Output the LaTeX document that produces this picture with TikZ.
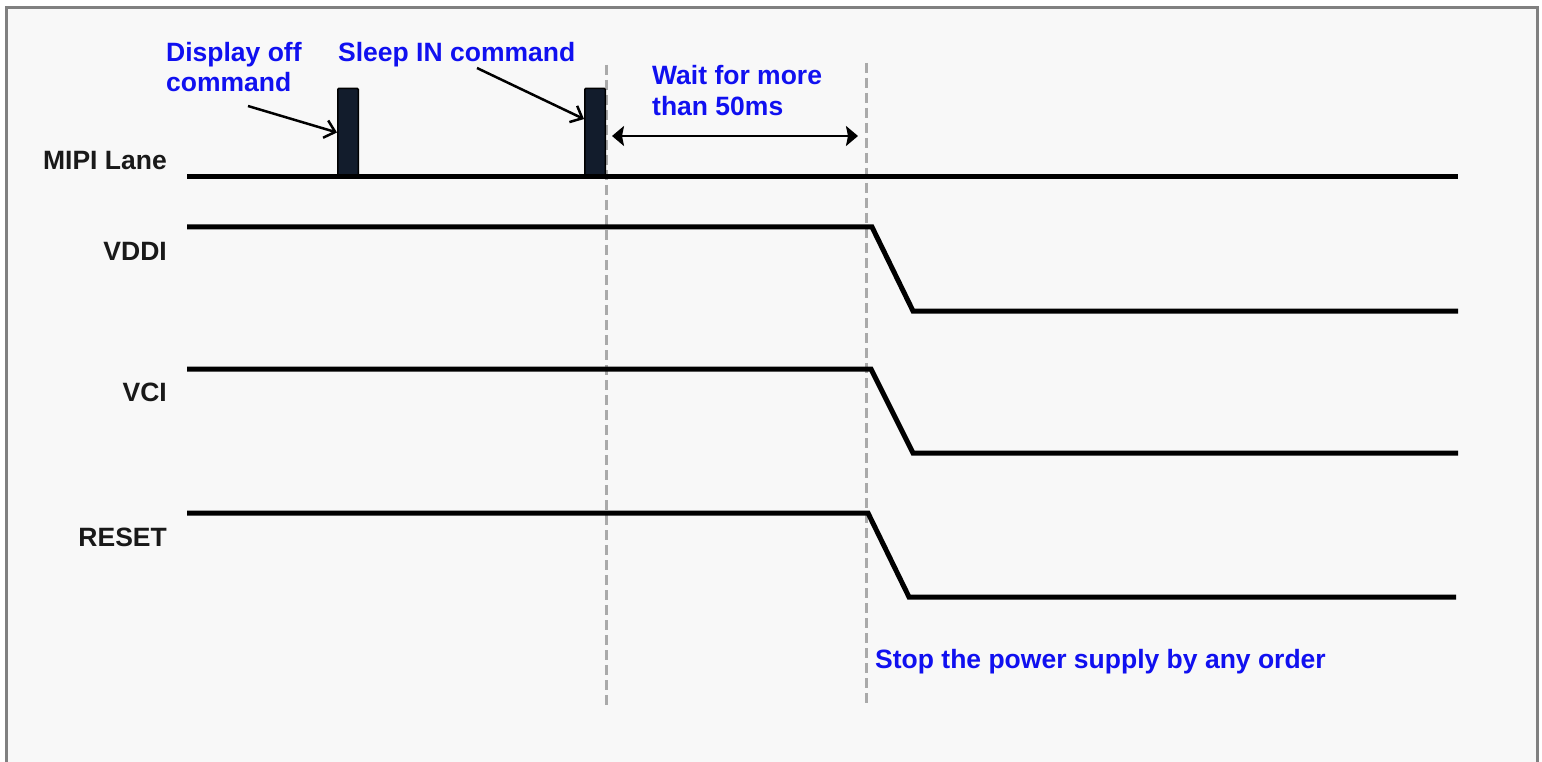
\documentclass[tikz,border=0pt]{standalone}
\usepackage{fontspec}
\setmainfont{Liberation Sans}
\usetikzlibrary{arrows.meta,calc}
\definecolor{txtblue}{RGB}{16,16,240}
\definecolor{framegray}{RGB}{128,128,128}
\definecolor{bgfill}{RGB}{248,248,248}
\definecolor{pulsefill}{RGB}{18,28,44}
\definecolor{dashgray}{RGB}{170,170,170}
\definecolor{lbltext}{RGB}{25,25,25}
\begin{document}
\begin{tikzpicture}[x=1pt,y=-1pt,
 lbl/.style={font=\fontsize{26.5}{30}\selectfont\bfseries, text=lbltext, inner sep=0pt, anchor=base east},
 note/.style={font=\fontsize{26.5}{30}\selectfont\bfseries, text=txtblue, inner sep=0pt, anchor=base west},
 sig/.style={line width=5pt, line cap=butt, line join=miter},
 pulse/.style={draw=black, line width=1.5pt, fill=pulsefill, minimum width=20.5pt, minimum height=88pt, inner sep=0pt, rounded corners=1pt},
 guide/.style={draw=dashgray, line width=3pt, dash pattern=on 10pt off 5pt},
 callout/.style={line width=2.5pt, -{Straight Barb[length=10pt,width=18pt]}},
 span/.style={line width=2.2pt, {Stealth[length=12pt,width=20pt,inset=2pt]}-{Stealth[length=12pt,width=20pt,inset=2pt]}}
]
\useasboundingbox (0,0) rectangle (1542,762);
\fill[white] (0,0) rectangle (1542,762);
\draw[framegray, line width=3pt, fill=bgfill] (6,8) rectangle (1537,800);

% guides
\coordinate (g1t) at (606,65);
\coordinate (g1b) at (606,705);
\coordinate (g2t) at (866,63);
\coordinate (g2b) at (866,705);
\draw[guide] (g1t) -- (g1b);
\draw[guide] (g2t) -- (g2b);

% pulses
\node[pulse] (p1) at (348,132.5) {};
\node[pulse] (p2) at (595,132.5) {};

% signals
\draw[sig] (187,177) -- (1458,177);
\draw[sig] (187,227) -- (872,227) -- (913,311) -- (1458,311);
\draw[sig] (187,369) -- (871,369) -- (913,453) -- (1458,453);
\draw[sig] (187,513) -- (868,513) -- (909,597) -- (1456,597);

% labels
\node[lbl] (mipi) at (167,170) {MIPI Lane};
\node[lbl] (vddi) at (167,261) {VDDI};
\node[lbl] (vci) at (167,401) {VCI};
\node[lbl] (reset) at (167,546) {RESET};

% notes
\node[note] (disp1) at (166,62) {Display off};
\node[note] (disp2) at (166,92) {command};
\node[note] (sleep) at (338,62) {Sleep IN command};
\node[note] (wait1) at (652,85) {Wait for more};
\node[note] (wait2) at (652,116) {than 50ms};
\node[note] (stop) at (875,668) {Stop the power supply by any order};

% callouts
\coordinate (c1) at (248,106);
\coordinate (c2) at (477,68);
\draw[callout] (c1) -- (p1.west);
\draw[callout] (c2) -- ($(p2.north west)!0.35!(p2.south west)$);

% wait span
\coordinate (w1) at (612,136);
\coordinate (w2) at (858,136);
\draw[span] (w1) -- (w2);
\end{tikzpicture}
\end{document}
